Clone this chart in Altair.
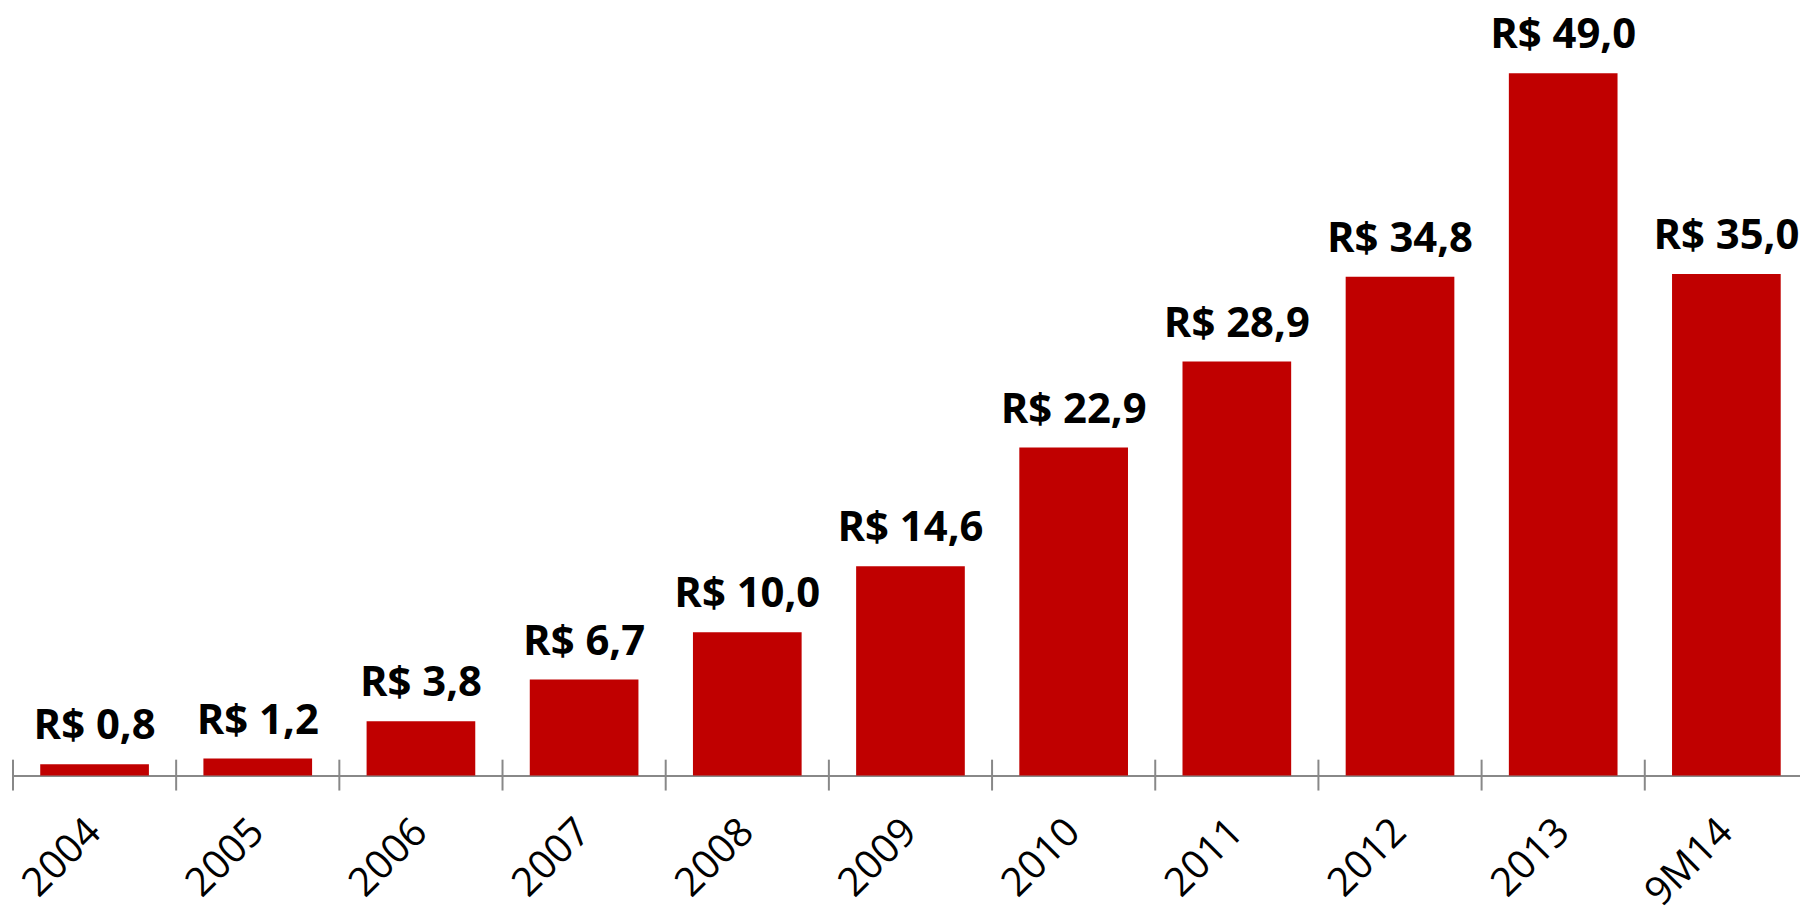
import altair as alt
import pandas as pd

categories = ["2004", "2005", "2006", "2007", "2008", "2009", "2010", "2011", "2012", "2013", "9M14"]
values = [0.8, 1.2, 3.8, 6.7, 10.0, 14.6, 22.9, 28.9, 34.8, 49.0, 35.0]
labels = ["R$ " + f"{v:.1f}".replace(".", ",") for v in values]

df = pd.DataFrame({"cat": categories, "value": values, "label": labels})

W = 1795
H = 763
XR = 1803
FONT = "Open Sans"

xscale = alt.Scale(domain=categories, paddingInner=0.334, paddingOuter=0.167, range=[0, XR])
yscale = alt.Scale(domain=[0, 53], nice=False, zero=True)

bars = alt.Chart(df).mark_bar(color="#C00000").encode(
    x=alt.X("cat:N", scale=xscale, sort=categories, title=None,
            axis=alt.Axis(labelAngle=-45, labelAlign="right", labelBaseline="middle",
                          labelFontSize=40, labelFont=FONT, labelColor="#000000",
                          labelPadding=50, ticks=False, domainColor="#888888",
                          domainWidth=2, grid=False, labelFlush=False, labelOverlap=False)),
    y=alt.Y("value:Q", scale=yscale, axis=None),
)

text = alt.Chart(df).mark_text(font=FONT, fontWeight="bold", fontSize=42, color="#000000",
                               baseline="alphabetic", dy=-25).encode(
    x=alt.X("cat:N", scale=xscale, sort=categories),
    y=alt.Y("value:Q", scale=yscale),
    text="label:N",
)

ticks = alt.Chart(df).mark_rule(color="#888888", strokeWidth=2).encode(
    x=alt.X("cat:N", scale=alt.Scale(domain=categories, paddingInner=0, paddingOuter=0, range=[0, XR]),
            sort=categories, bandPosition=0, axis=None),
    y=alt.value(H - 16),
    y2=alt.value(H + 15),
)

main = alt.layer(bars, text)
chart = alt.layer(main, ticks).resolve_scale(x="independent").properties(
    width=W, height=H,
    autosize=alt.AutoSizeParams(type="none"),
    padding={"left": 5, "top": 6, "right": 0, "bottom": 140},
).configure_view(stroke=None)

chart.save("out.html", embed_options={"renderer": "svg", "actions": False})
